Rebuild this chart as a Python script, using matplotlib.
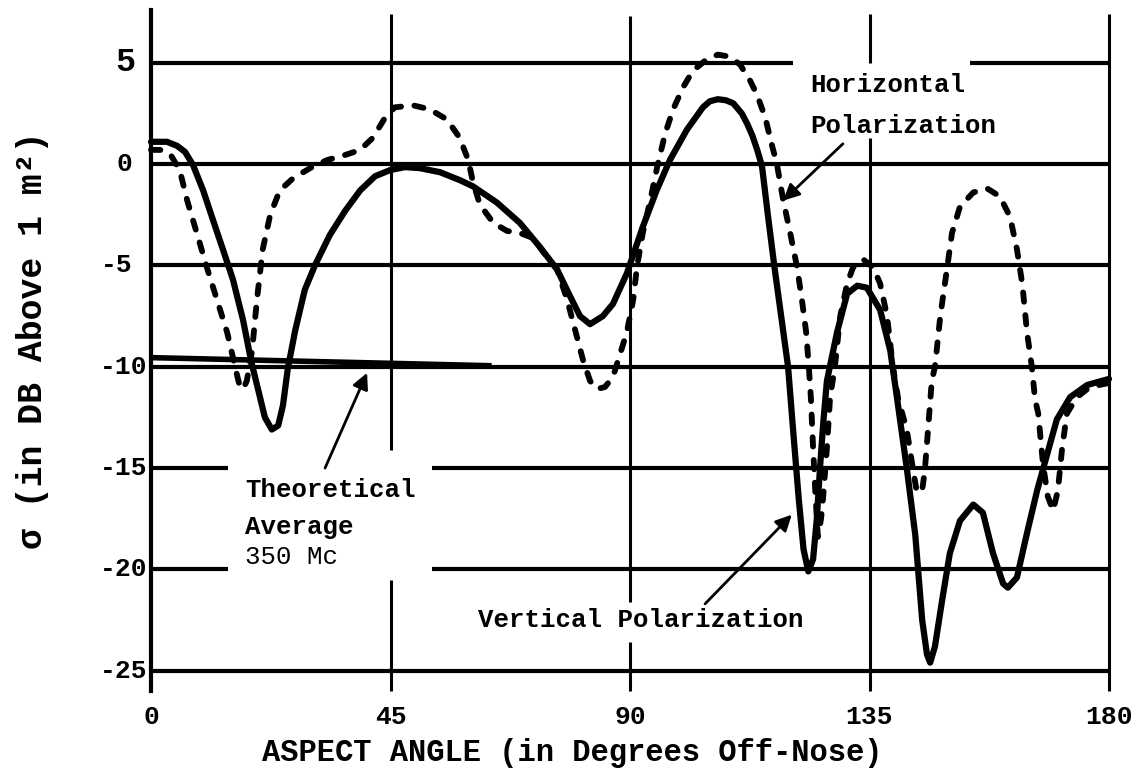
import matplotlib
matplotlib.use("Agg")
import matplotlib.pyplot as plt

# radar cross section vs aspect angle
vert_angle = [
    0, 3, 4.9, 6.4, 7.9, 9.8, 11.7, 13.5, 15.4, 17.3, 18.8, 20.1, 21.4, 22.7, 23.9, 24.8, 25.7, 27.1, 28.9, 30.8,
    33.6, 36.5, 39.3, 42.1, 44.9, 47.7, 50.5, 54.3, 58.1, 60.5,
    65.0, 69.3, 73.1, 76.3, 78.7, 80.6, 82.5, 84.9, 86.8, 89.4,
    92.4, 95.0, 97.5, 100.7, 103.7, 105.0, 106.5, 108.0, 109.4, 111.0, 112.0, 113.0, 113.9, 114.8,
    115.9, 117.1, 118.4, 119.7, 120.7, 121.7, 122.6, 123.5, 124.4, 125.1,
    125.7, 126.3, 127.0, 128.9, 130.8, 132.7, 134.5, 137.0, 138.9, 140.2,
    142.0, 143.6, 144.9, 145.8, 146.4, 147.3, 148.6, 150.1, 152.0, 154.5,
    156.3, 158.2, 160.1, 161.0, 162.7, 164.6, 166.5, 168.4, 170.2, 172.7,
    175.9, 180.0,
]
vert_db = [
    1.1, 1.1, 0.9, 0.6, -0.05, -1.3, -2.8, -4.2, -5.7, -7.7, -9.7, -11.1, -12.5, -13.1, -12.9, -11.9, -10.1, -8.2, -6.2, -5.0,
    -3.5, -2.3, -1.3, -0.6, -0.3, -0.15, -0.2, -0.4, -0.8, -1.1,
    -1.9, -2.9, -4.1, -5.2, -6.5, -7.5, -7.9, -7.5, -6.9, -5.4,
    -3.1, -1.3, 0.2, 1.7, 2.8, 3.1, 3.2, 3.15, 3.0, 2.5, 2.0, 1.4, 0.7, -0.1,
    -2.5, -5.0, -7.5, -10.0, -13.3, -16.5, -19.0, -20.1, -19.5, -17.5,
    -15.0, -12.8, -10.7, -8.3, -6.4, -6.0, -6.1, -7.2, -9.2, -11.6,
    -15.0, -18.3, -22.5, -24.2, -24.6, -23.8, -21.6, -19.2, -17.6, -16.8,
    -17.2, -19.2, -20.7, -20.9, -20.4, -18.2, -16.1, -14.3, -12.6, -11.5,
    -10.9, -10.6,
]

horiz_angle = [
    0, 1.7, 3.6, 5.4, 6.8, 8.6, 10.5, 12.4, 14.3, 15.8,
    16.7, 17.3, 18.0, 19.0, 19.9, 21.0, 22.4, 24.2, 26.7, 29.9,
    33.1, 36.5, 39.3, 41.7, 44.0, 45.8, 49.2, 52.4, 55.6, 58.0,
    59.6, 60.5, 61.8, 64.3, 66.9, 69.3, 71.8, 73.6, 76.3, 78.2,
    79.7, 81.2, 82.5, 83.8, 85.3, 86.8, 88.1, 89.4, 90.6, 91.3,
    92.4, 93.8, 95.1, 96.6, 98.1, 100.0, 101.8, 104.1, 106.5, 108.8,
    110.7, 112.6, 113.9, 115.4, 116.7, 117.6, 118.8, 120.1, 121.4, 122.3,
    123.1, 123.6, 124.0, 124.4, 124.8, 125.3, 125.9, 126.3, 127.0, 127.6,
    128.5, 129.5, 130.8, 131.9, 133.8, 135.7, 137.0, 138.3, 139.4, 140.4,
    142.0, 143.2, 143.9, 144.9, 145.4, 146.0, 146.7, 147.3, 148.3, 149.6,
    150.5, 152.0, 154.5, 157.1, 159.5, 161.4, 162.7, 163.7, 164.6, 165.5,
    166.1, 166.7, 167.6, 168.5, 169.5, 170.4, 171.2, 172.1, 174.0, 176.4,
    180.0,
]
horiz_db = [
    0.7, 0.7, 0.5, -0.3, -1.8, -3.4, -5.1, -6.7, -8.3, -10.0,
    -11.0, -11.1, -10.7, -9.2, -6.7, -4.2, -2.5, -1.3, -0.7, -0.2,
    0.2, 0.45, 0.7, 1.3, 2.3, 2.8, 2.9, 2.7, 2.2, 1.3,
    0.2, -0.9, -2.0, -2.9, -3.3, -3.4, -3.65, -4.3, -5.2, -6.7,
    -8.2, -9.7, -10.7, -11.1, -11.0, -10.5, -9.4, -8.3, -6.7, -5.1,
    -3.4, -1.8, -0.15, 1.5, 2.7, 3.8, 4.6, 5.1, 5.4, 5.3,
    4.9, 4.1, 3.4, 2.3, 0.9, 0.0, -1.8, -3.4, -5.1, -6.7,
    -8.3, -10.0, -11.6, -14.0, -16.1, -18.4, -17.5, -16.4, -14.0, -11.5,
    -10.0, -7.5, -5.9, -5.1, -4.7, -5.1, -5.9, -7.5, -10.0, -11.6,
    -13.1, -15.1, -16.2, -16.1, -15.1, -13.1, -10.7, -10.0, -7.5, -5.1,
    -3.4, -2.1, -1.4, -1.2, -1.6, -2.6, -4.2, -5.9, -8.3, -10.0,
    -11.6, -12.3, -14.8, -16.4, -17.1, -16.1, -14.0, -12.3, -11.5, -11.0,
    -10.8,
]

# theoretical average at 350 Mc
theory_angle = [0, 64]
theory_db = [-9.55, -9.95]

x_ticks = [0, 45, 90, 135, 180]
y_ticks = [5, 0, -5, -10, -15, -20, -25]

FONT = ["Liberation Mono", "DejaVu Sans Mono"]
INK = "black"

fig = plt.figure(figsize=(11.42, 7.83), dpi=100)
ax = fig.add_axes([151 / 1142, 92 / 783, 958 / 1142, 685 / 783])
ax.set_xlim(0, 180)
ax.set_ylim(-26, 7.8)
for side in ("top", "right", "bottom"):
    ax.spines[side].set_visible(False)
ax.spines["left"].set_linewidth(3)
ax.spines["left"].set_bounds(-26, 7.6)

# horizontal rules, broken where the annotations sit
h_gaps = {5: [(0, 120.6), (153.9, 180)], -15: [(0, 14.5), (52.8, 180)], -20: [(0, 14.5), (52.8, 180)]}
for v in y_ticks:
    for x0, x1 in h_gaps.get(v, [(0, 180)]):
        ax.plot([x0, x1], [v, v], color=INK, lw=3, solid_capstyle="butt", clip_on=False, zorder=2)

# vertical rules, also broken around text
v_spans = {
    45: [(-26, -20.5), (-14.1, 7.4)],
    90: [(-26, -23.6), (-21.6, 7.3)],
    135: [(-26, 1.3), (5.0, 7.4)],
    180: [(-26, 7.4)],
}
for x in x_ticks[1:]:
    for y0, y1 in v_spans[x]:
        ax.plot([x, x], [y0, y1], color=INK, lw=2.2, solid_capstyle="butt", clip_on=False, zorder=2)

# tick labels
ax.set_xticks(x_ticks)
ax.set_xticklabels([str(t) for t in x_ticks], family=FONT, fontsize=19, fontweight="bold")
ax.tick_params(axis="x", length=0, pad=10)
ax.set_yticks([])
for v in y_ticks:
    if v == 5:
        dx, size = -11.5, 24
    elif v == 0:
        dx, size = -13.5, 19
    elif v == -5:
        dx, size = -13, 19
    else:
        dx, size = -2.2, 19
    ax.annotate(str(v), xy=(0, v), xytext=(dx, 0), textcoords="offset points",
                ha="right", va="center", family=FONT, fontsize=size, fontweight="bold",
                annotation_clip=False)

# data
ax.plot(theory_angle, theory_db, color=INK, lw=4, solid_capstyle="butt", zorder=3)
ax.plot(vert_angle, vert_db, color=INK, lw=4.5, solid_joinstyle="round",
        solid_capstyle="round", clip_on=False, zorder=4)
ax.plot(horiz_angle, horiz_db, color=INK, lw=4.2, linestyle=(0, (1.6, 2.3)),
        dash_capstyle="round", dash_joinstyle="round", clip_on=False, zorder=4)

# annotations
txt = dict(family=FONT, fontsize=18.5, fontweight="bold", ha="left", va="center")
ax.text(123.8, 3.9, "Horizontal", **txt)
ax.text(123.8, 1.9, "Polarization", **txt)
ax.text(17.7, -16.1, "Theoretical", **txt)
ax.text(17.7, -17.9, "Average", **txt)
ax.text(17.7, -19.4, "350 Mc", **{**txt, "fontweight": "normal"})
ax.text(61.4, -22.5, "Vertical Polarization", **txt)

arrow = dict(arrowstyle="-|>", lw=2, color=INK, mutation_scale=24, shrinkA=0, shrinkB=0)
ax.annotate("", xy=(118.8, -1.8), xytext=(130.0, 1.0), arrowprops=arrow)
ax.annotate("", xy=(40.6, -10.3), xytext=(32.7, -15.0), arrowprops=arrow)
ax.annotate("", xy=(120.4, -17.3), xytext=(104.1, -21.7), arrowprops=arrow)

fig.text(572 / 1142, 1 - 753 / 783, "ASPECT ANGLE (in Degrees Off-Nose)", ha="center", va="center",
         family=FONT, fontsize=22, fontweight="bold")
fig.text(33 / 1142, 1 - 340 / 783, "σ (in DB Above 1 m²)", ha="center", va="center", rotation=90,
         family=FONT, fontsize=25, fontweight="bold")

fig.savefig("out.png", dpi=100)
